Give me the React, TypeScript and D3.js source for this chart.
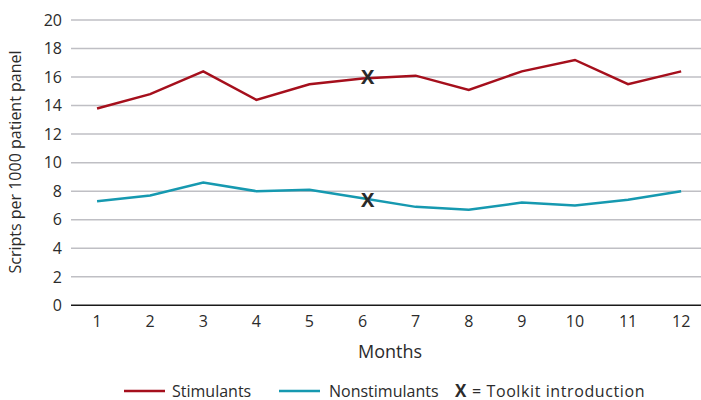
import React from "react";
import * as d3 from "d3";

const months = [1, 2, 3, 4, 5, 6, 7, 8, 9, 10, 11, 12];
const stimulants = [13.8, 14.8, 16.4, 14.4, 15.5, 15.9, 16.1, 15.1, 16.4, 17.2, 15.5, 16.4];
const nonstimulants = [7.3, 7.7, 8.6, 8.0, 8.1, 7.5, 6.9, 6.7, 7.2, 7.0, 7.4, 8.0];
const yTicks = [0, 2, 4, 6, 8, 10, 12, 14, 16, 18, 20];
const toolkitMonth = 6;
const toolkitMarks = [16.0, 7.4];

const W = 701;
const H = 400;
const RED = "#a50f1c";
const TEAL = "#1699b0";
const TEXT = "#2b2b2b";
const FONT = "'Open Sans', 'Noto Sans', sans-serif";

export default function App() {
  const x = d3
    .scaleBand<number>()
    .domain(months)
    .range([70.5, 707.7]);
  const cx = (m: number) => (x(m) as number) + x.bandwidth() / 2;
  const y = d3.scaleLinear().domain([0, 20]).range([305.3, 20]);

  const line = d3
    .line<number>()
    .x((_, i) => cx(months[i]))
    .y((d) => y(d));

  return (
    <svg
      width={W}
      height={H}
      style={{ position: "absolute", left: 0, top: 0, background: "#fff" }}
      fontFamily={FONT}
    >
      {/* gridlines */}
      {yTicks
        .filter((t) => t !== 0)
        .map((t) => (
          <line
            key={t}
            x1={71}
            x2={W}
            y1={y(t)}
            y2={y(t)}
            stroke="#bfbfc4"
            strokeWidth={1.5}
          />
        ))}
      {/* x axis line */}
      <line x1={71} x2={W} y1={y(0)} y2={y(0)} stroke="#1a1a1a" strokeWidth={1.5} />

      {/* y tick labels */}
      {yTicks.map((t) => (
        <text
          key={t}
          x={62}
          y={y(t)}
          dy="0.36em"
          textAnchor="end"
          fontSize={16}
          fill={TEXT}
        >
          {t}
        </text>
      ))}

      {/* x tick labels */}
      {months.map((m) => (
        <text
          key={m}
          x={cx(m)}
          y={326.5}
          textAnchor="middle"
          fontSize={16}
          fill={TEXT}
        >
          {m}
        </text>
      ))}

      {/* axis titles */}
      <text x={390} y={358} textAnchor="middle" fontSize={18} fill={TEXT}>
        Months
      </text>
      <text
        transform={`translate(21,162) rotate(-90)`}
        textAnchor="middle"
        fontSize={16}
        fill={TEXT}
      >
        Scripts per 1000 patient panel
      </text>

      {/* series */}
      <path d={line(stimulants) || ""} fill="none" stroke={RED} strokeWidth={2.5} strokeLinejoin="miter" />
      <path d={line(nonstimulants) || ""} fill="none" stroke={TEAL} strokeWidth={2.5} strokeLinejoin="miter" />

      {/* toolkit markers */}
      {toolkitMarks.map((v, i) => (
        <text
          key={i}
          x={cx(toolkitMonth) + 5}
          y={y(v)}
          dy="0.36em"
          textAnchor="middle"
          fontSize={20}
          fontWeight="bold"
          fill="#2a2a2a"
        >
          X
        </text>
      ))}

      {/* legend */}
      <line x1={124} x2={165} y1={391} y2={391} stroke={RED} strokeWidth={2.5} />
      <text x={172} y={396.5} fontSize={16} fill={TEXT}>
        Stimulants
      </text>
      <line x1={279} x2={320} y1={391} y2={391} stroke={TEAL} strokeWidth={2.5} />
      <text x={329} y={396.5} fontSize={16} fill={TEXT}>
        Nonstimulants
      </text>
      <text x={455} y={396.5} fontSize={17} fontWeight="bold" fill={TEXT}>
        X
      </text>
      <text x={472} y={396.5} fontSize={16} fill={TEXT} letterSpacing={0.6}>
        = Toolkit introduction
      </text>
    </svg>
  );
}
